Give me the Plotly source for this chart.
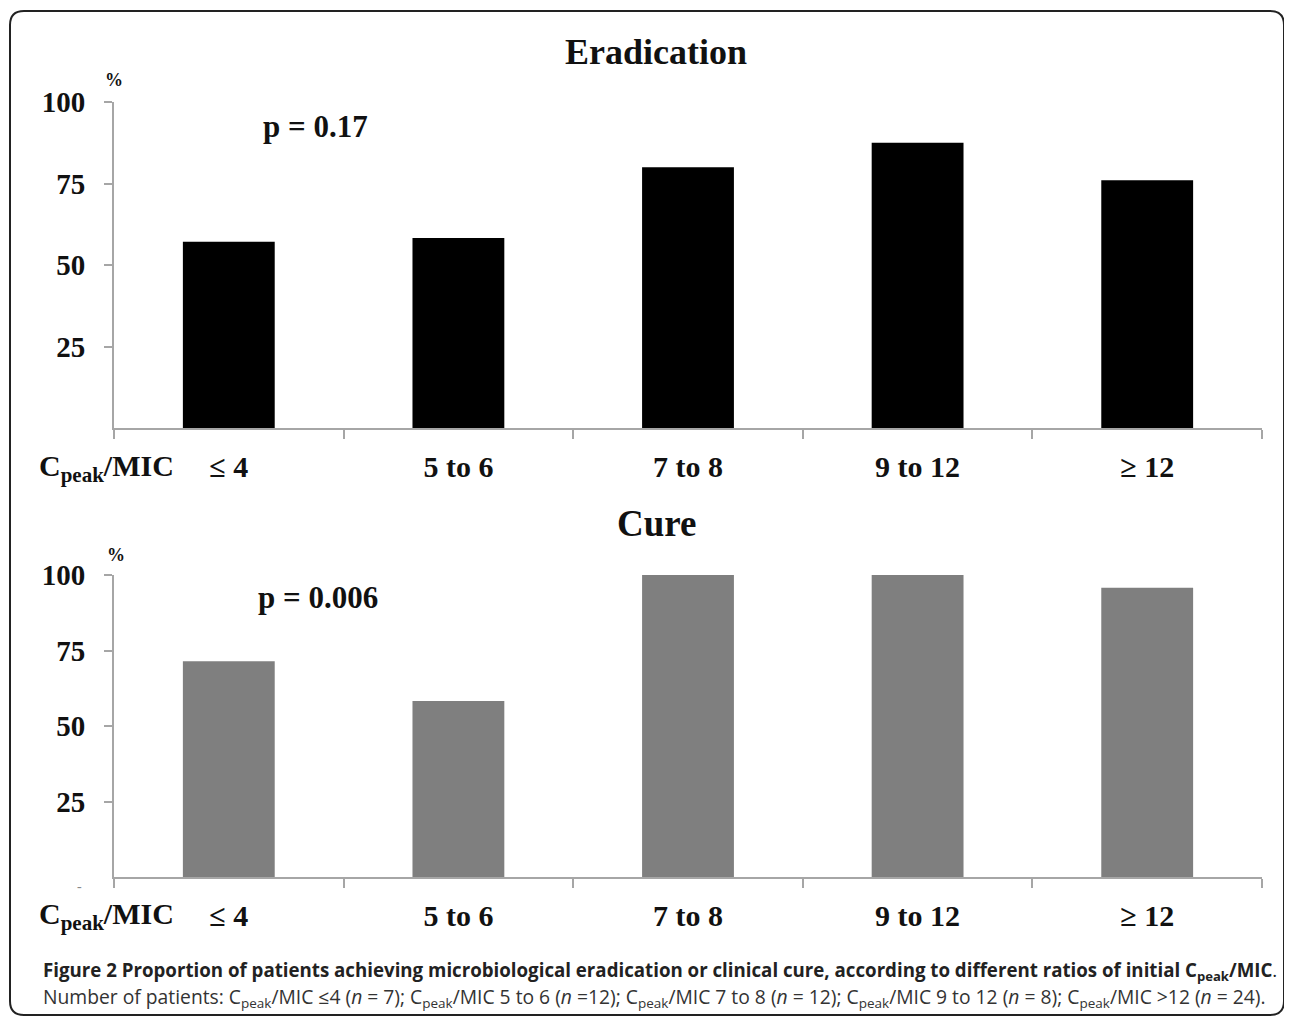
import plotly.graph_objects as go

categories = ["≤ 4", "5 to 6", "7 to 8", "9 to 12", "≥ 12"]
eradication = [57.1, 58.3, 80.0, 87.5, 76.0]
cure = [71.4, 58.3, 100.0, 100.0, 95.8]
y_ticks = [25, 50, 75, 100]

W, H = 1292, 1020
OFF = 8  # default page body margin
def px(x): return (x - OFF) / W
def py(y): return 1 - (y - OFF) / H

SERIF = "Liberation Serif"
AX = "#a6a6a6"

fig = go.Figure()
fig.add_trace(go.Bar(x=categories, y=eradication, marker=dict(color="#000000", line=dict(width=0)),
                     width=0.4, xaxis="x", yaxis="y", showlegend=False))
fig.add_trace(go.Bar(x=categories, y=cure, marker=dict(color="#7f7f7f", line=dict(width=0)),
                     width=0.4, xaxis="x2", yaxis="y2", showlegend=False))

xcommon = dict(type="category", showline=True, linecolor=AX, linewidth=2, ticks="outside",
               tickson="boundaries", ticklen=9, tickcolor=AX, tickwidth=2, showgrid=False,
               zeroline=False, tickfont=dict(family=SERIF, size=30, color="#111", weight="bold"),
               ticklabelstandoff=11, domain=[px(114), px(1262)], range=[-0.5, 4.5])
ycommon = dict(range=[0, 100], tickvals=y_ticks, showline=True, linecolor=AX, linewidth=2,
               ticks="outside", ticklen=8, tickcolor=AX, tickwidth=2, showgrid=False,
               zeroline=False, tickfont=dict(family=SERIF, size=29, color="#111", weight="bold"),
               ticklabelstandoff=13)

fig.update_layout(
    width=W, height=H, margin=dict(l=0, r=0, t=0, b=0, autoexpand=False),
    paper_bgcolor="white", plot_bgcolor="white", bargap=0.6,
    xaxis=dict(**xcommon, anchor="y"),
    yaxis=dict(**ycommon, domain=[py(428), py(102)], anchor="x"),
    xaxis2=dict(**xcommon, anchor="y2"),
    yaxis2=dict(**ycommon, domain=[py(877), py(575)], anchor="x2"),
)

def ann(x, y, text, size, family=SERIF, xanchor="center", color="#111"):
    fig.add_annotation(x=px(x), y=py(y), xref="paper", yref="paper", text=text, showarrow=False,
                       xanchor=xanchor, yanchor="middle", font=dict(family=family, size=size, color=color))

ann(656, 52, "<b>Eradication</b>", 36)
ann(656, 523, "<b>Cure</b>", 37)
ann(114, 80, "<b>%</b>", 18)
ann(116, 555, "<b>%</b>", 18)
ann(315, 126, "<b>p = 0.17</b>", 31)
ann(318, 597, "<b>p = 0.006</b>", 31)
ann(37, 468, "<b>C<sub>peak</sub>/MIC</b>", 30, xanchor="left")
ann(37, 916, "<b>C<sub>peak</sub>/MIC</b>", 30, xanchor="left")
ann(79, 886, "-", 14, color="#888")

CAP = "Open Sans"
ann(41, 971, "<b>Figure 2 Proportion of patients achieving microbiological eradication or clinical cure, according to different ratios of initial C<sub>peak</sub>/MIC</b>.",
    18.7, family=CAP, xanchor="left", color="#222")
ann(41, 997, "Number of patients: C<sub>peak</sub>/MIC ≤4 (<i>n</i> = 7); C<sub>peak</sub>/MIC 5 to 6 (<i>n</i> =12); C<sub>peak</sub>/MIC 7 to 8 (<i>n</i> = 12); C<sub>peak</sub>/MIC 9 to 12 (<i>n</i> = 8); C<sub>peak</sub>/MIC >12 (<i>n</i> = 24).",
    19.3, family=CAP, xanchor="left", color="#333")

# rounded border
x0, x1, y0, y1, r = 10, 1284, 11, 1015, 14
rx, ry = r / W, r / H
X0, X1, Y0, Y1 = px(x0), px(x1), py(y0), py(y1)
path = (f"M {X0+rx},{Y0} L {X1-rx},{Y0} Q {X1},{Y0} {X1},{Y0-ry} L {X1},{Y1+ry} "
        f"Q {X1},{Y1} {X1-rx},{Y1} L {X0+rx},{Y1} Q {X0},{Y1} {X0},{Y1+ry} L {X0},{Y0-ry} "
        f"Q {X0},{Y0} {X0+rx},{Y0} Z")
fig.add_shape(type="path", path=path, xref="paper", yref="paper", line=dict(color="#222", width=2))

fig.write_html("out.html")
